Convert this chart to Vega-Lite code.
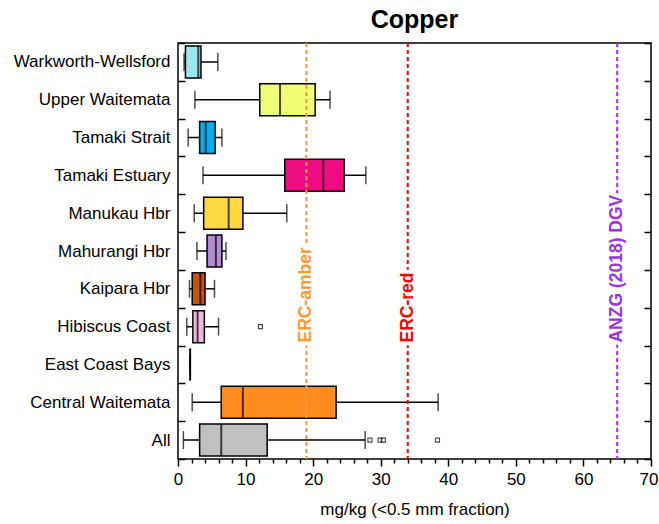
{
  "$schema": "https://vega.github.io/schema/vega-lite/v6.json",
  "autosize": "none",
  "width": 473,
  "height": 416,
  "padding": {"left": 178, "top": 43, "right": 8, "bottom": 65},
  "background": "white",
  "title": {"text": "Copper", "fontSize": 25, "fontWeight": "bold", "font": "Liberation Sans", "anchor": "middle", "color": "black", "offset": 1},
  "config": {
    "font": "Liberation Sans",
    "view": {"stroke": "black", "strokeWidth": 1.5},
    "axis": {"labelColor": "black", "titleColor": "black", "tickColor": "black", "domainColor": "black", "labelFont": "Liberation Sans", "titleFont": "Liberation Sans", "labelFontSize": 17, "titleFontSize": 17, "titleFontWeight": "normal", "grid": false, "domainWidth": 1.5, "tickWidth": 1.5}
  },
  "datasets": {
    "stats": [
      {"region": "Warkworth-Wellsford", "min": 0.9, "q1": 1.1, "median": 3.0, "q3": 3.4, "max": 5.9},
      {"region": "Upper Waitemata", "min": 2.5, "q1": 12.1, "median": 15.1, "q3": 20.3, "max": 22.5},
      {"region": "Tamaki Strait", "min": 1.5, "q1": 3.2, "median": 4.1, "q3": 5.5, "max": 6.5},
      {"region": "Tamaki Estuary", "min": 3.7, "q1": 15.8, "median": 21.5, "q3": 24.6, "max": 27.8},
      {"region": "Manukau Hbr", "min": 2.4, "q1": 3.8, "median": 7.5, "q3": 9.6, "max": 16.1},
      {"region": "Mahurangi Hbr", "min": 2.8, "q1": 4.3, "median": 5.6, "q3": 6.5, "max": 7.1},
      {"region": "Kaipara Hbr", "min": 1.7, "q1": 2.1, "median": 3.3, "q3": 4.0, "max": 5.4},
      {"region": "Hibiscus Coast", "min": 1.3, "q1": 2.2, "median": 2.9, "q3": 3.9, "max": 6.0},
      {"region": "East Coast Bays", "min": 1.8, "q1": 1.8, "median": 1.8, "q3": 1.8, "max": 1.8},
      {"region": "Central Waitemata", "min": 2.1, "q1": 6.4, "median": 9.6, "q3": 23.4, "max": 38.5},
      {"region": "All", "min": 0.8, "q1": 3.2, "median": 6.4, "q3": 13.2, "max": 27.7}
    ],
    "outliers": [
      {"region": "Hibiscus Coast", "value": 12.2},
      {"region": "All", "value": 28.4},
      {"region": "All", "value": 29.9},
      {"region": "All", "value": 30.4},
      {"region": "All", "value": 38.4}
    ],
    "refs": [
      {"label": "ERC-amber", "value": 19, "anchor": "Hibiscus Coast"},
      {"label": "ERC-red", "value": 34, "anchor": "Hibiscus Coast"},
      {"label": "ANZG (2018) DGV", "value": 65, "anchor": "Hibiscus Coast"}
    ]
  },
  "resolve": {"axis": {"x": "independent", "y": "independent"}, "scale": {"color": "independent"}},
  "layer": [
    {
      "data": {"name": "stats"},
      "mark": {"type": "rule", "color": "black", "strokeWidth": 1.5},
      "encoding": {
        "y": {"field": "region", "type": "nominal", "sort": null,
          "scale": {"domain": ["Warkworth-Wellsford", "Upper Waitemata", "Tamaki Strait", "Tamaki Estuary", "Manukau Hbr", "Mahurangi Hbr", "Kaipara Hbr", "Hibiscus Coast", "East Coast Bays", "Central Waitemata", "All"], "paddingInner": 0, "paddingOuter": 0},
          "axis": {"title": null, "tickBand": "extent", "tickSize": -7, "labelPadding": 15, "domain": false}},
        "x": {"field": "min", "type": "quantitative", "scale": {"domain": [0, 70], "nice": false},
          "axis": {"title": "mg/kg (<0.5 mm fraction)", "values": [0,2,4,6,8,10,12,14,16,18,20,22,24,26,28,30,32,34,36,38,40,42,44,46,48,50,52,54,56,58,60,62,64,66,68,70],
            "labelExpr": "datum.value % 10 === 0 ? datum.label : ''",
            "labelOverlap": false, "labelFlush": false,
            "labelAlign": {"condition": {"test": "datum.value === 70", "value": "right"}, "value": "center"},
            "labelOffset": {"condition": {"test": "datum.value === 70", "value": 7}, "value": 0},
            "tickSize": {"condition": {"test": "datum.value % 10 === 0", "value": 7}, "value": 4},
            "labelPadding": 5, "titlePadding": 14, "domain": false}},
        "x2": {"field": "max"}
      }
    },
    {
      "data": {"name": "stats"},
      "transform": [{"fold": ["min", "max"], "as": ["stat", "v"]}],
      "mark": {"type": "tick", "orient": "vertical", "color": "black", "size": 18, "thickness": 1.5},
      "encoding": {
        "y": {"field": "region", "type": "nominal", "sort": null, "axis": null},
        "x": {"field": "v", "type": "quantitative", "scale": {"domain": [0, 70], "nice": false}, "axis": null}
      }
    },
    {
      "data": {"name": "stats"},
      "mark": {"type": "bar", "size": 32, "stroke": "black", "strokeWidth": 1.5},
      "encoding": {
        "y": {"field": "region", "type": "nominal", "sort": null, "axis": null},
        "x": {"field": "q1", "type": "quantitative", "scale": {"domain": [0, 70], "nice": false}, "axis": null},
        "x2": {"field": "q3"},
        "color": {"field": "region", "type": "nominal", "legend": null,
          "scale": {"domain": ["Warkworth-Wellsford", "Upper Waitemata", "Tamaki Strait", "Tamaki Estuary", "Manukau Hbr", "Mahurangi Hbr", "Kaipara Hbr", "Hibiscus Coast", "East Coast Bays", "Central Waitemata", "All"],
            "range": ["#9CE8EE", "#EEFF77", "#00AEEF", "#EE0C80", "#FFD93F", "#B48CD4", "#C0560E", "#F0B8DA", "#000000", "#FF8C1E", "#C0C0C0"]}}
      }
    },
    {
      "data": {"name": "stats"},
      "mark": {"type": "tick", "orient": "vertical", "color": "black", "size": 32, "thickness": 2},
      "encoding": {
        "y": {"field": "region", "type": "nominal", "sort": null, "axis": null},
        "x": {"field": "median", "type": "quantitative", "scale": {"domain": [0, 70], "nice": false}, "axis": null}
      }
    },
    {
      "data": {"name": "outliers"},
      "mark": {"type": "point", "shape": "square", "size": 16, "filled": false, "stroke": "black", "strokeWidth": 1.2, "fill": "white"},
      "encoding": {
        "y": {"field": "region", "type": "nominal", "sort": null,
          "axis": {"orient": "right", "title": null, "labels": false, "tickBand": "extent", "tickSize": -7, "domain": false}},
        "x": {"field": "value", "type": "quantitative", "scale": {"domain": [0, 70], "nice": false}, "axis": null}
      }
    },
    {
      "data": {"name": "refs"},
      "mark": {"type": "rule", "strokeWidth": 2, "strokeDash": [4, 3]},
      "encoding": {
        "x": {"field": "value", "type": "quantitative", "scale": {"domain": [0, 70], "nice": false}, "axis": null},
        "color": {"field": "label", "type": "nominal", "legend": null,
          "scale": {"domain": ["ERC-amber", "ERC-red", "ANZG (2018) DGV"], "range": ["#FF9933", "#FF0000", "#9933EE"]}}
      }
    },
    {
      "data": {"name": "refs"},
      "mark": {"type": "text", "angle": 270, "align": "left", "baseline": "middle", "fontSize": 17.5, "fontWeight": "bold", "stroke": "white", "strokeWidth": 8, "fill": "white", "dx": 3},
      "encoding": {
        "x": {"field": "value", "type": "quantitative", "scale": {"domain": [0, 70], "nice": false}, "axis": null},
        "y": {"field": "anchor", "type": "nominal", "bandPosition": 1, "axis": null},
        "text": {"field": "label"}
      }
    },
    {
      "data": {"name": "refs"},
      "mark": {"type": "text", "angle": 270, "align": "left", "baseline": "middle", "fontSize": 17.5, "fontWeight": "bold", "dx": 3},
      "encoding": {
        "x": {"field": "value", "type": "quantitative", "scale": {"domain": [0, 70], "nice": false}, "axis": null},
        "y": {"field": "anchor", "type": "nominal", "bandPosition": 1, "axis": null},
        "text": {"field": "label"},
        "color": {"field": "label", "type": "nominal", "legend": null,
          "scale": {"domain": ["ERC-amber", "ERC-red", "ANZG (2018) DGV"], "range": ["#FF9933", "#FF0000", "#9933EE"]}}
      }
    }
  ]
}
